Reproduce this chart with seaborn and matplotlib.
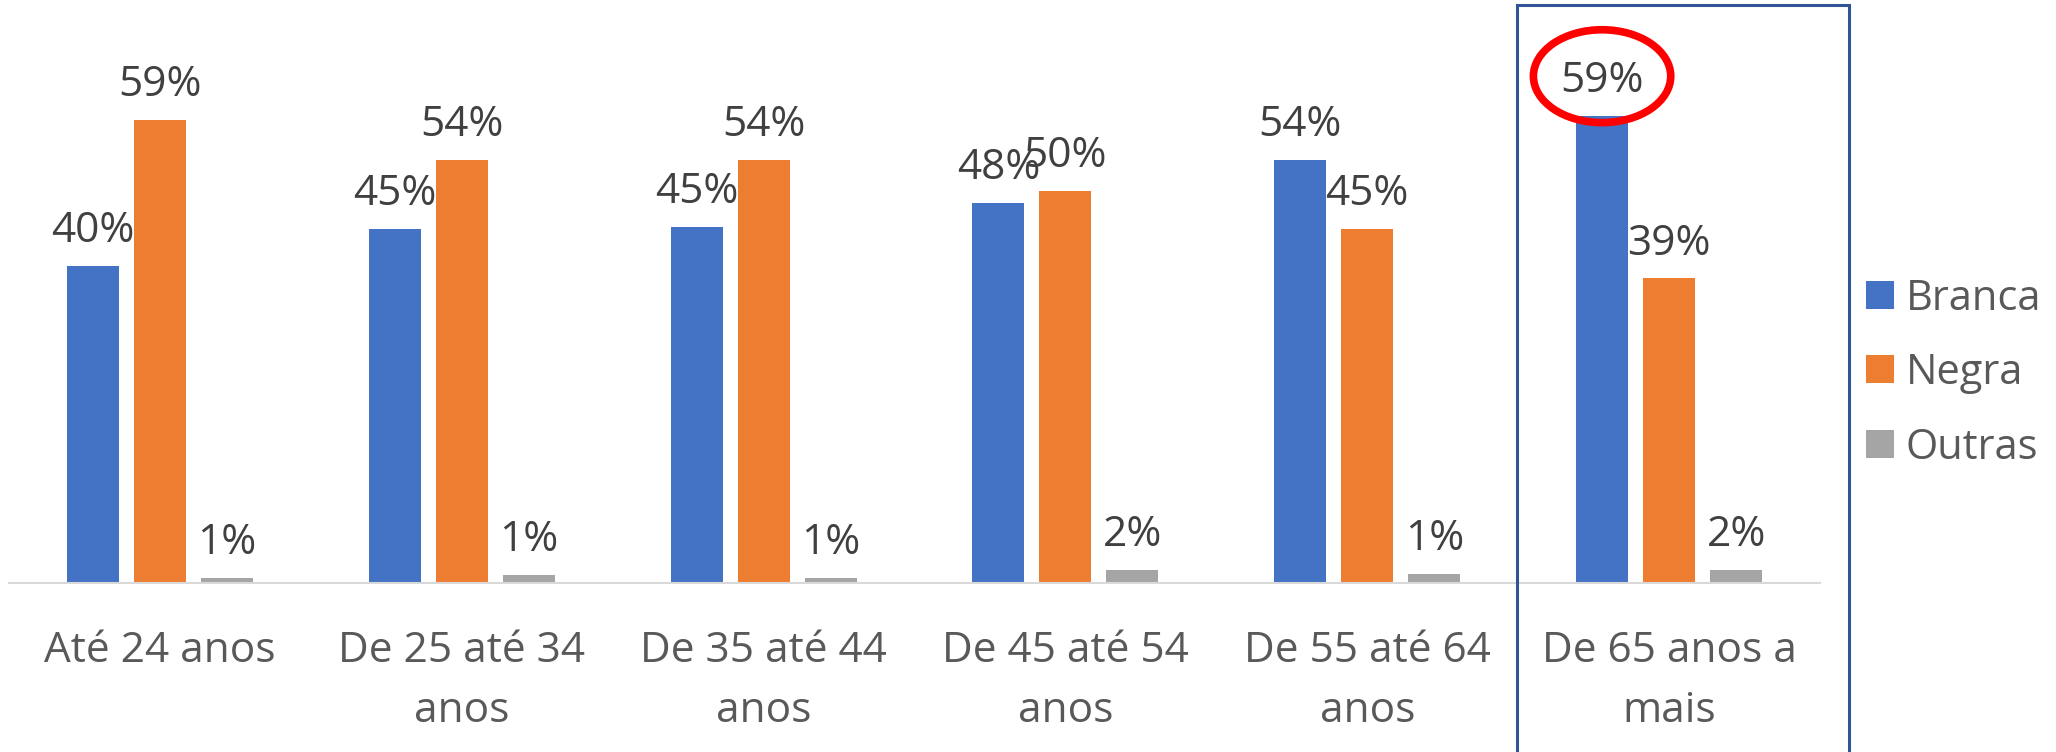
import numpy as np
import pandas as pd
import matplotlib.pyplot as plt
import seaborn as sns
from matplotlib.patches import Ellipse, Rectangle

# data (share of each age group)
faixas = [
    "Até 24 anos",
    "De 25 até 34\nanos",
    "De 35 até 44\nanos",
    "De 45 até 54\nanos",
    "De 55 até 64\nanos",
    "De 65 anos a\nmais",
]
racas = ["Branca", "Negra", "Outras"]
branca = [0.403, 0.450, 0.452, 0.483, 0.537, 0.594]
negra = [0.588, 0.537, 0.538, 0.498, 0.450, 0.387]
outras = [0.0067, 0.010, 0.0067, 0.0167, 0.0117, 0.0167]
cores = ["#4472C4", "#ED7D31", "#A5A5A5"]

df = pd.DataFrame({
    "faixa": faixas * 3,
    "raca": np.repeat(racas, len(faixas)),
    "pct": branca + negra + outras,
})

sns.set_theme(style="white")
plt.rcParams["font.family"] = ["Open Sans", "DejaVu Sans"]

W, H = 2056, 752
fig = plt.figure(figsize=(W / 100, H / 100), dpi=100)

# axes placed so that the baseline sits at y=583 px and 1% = 7.87 px
ymax = 0.72
base_px = 583
top_px = base_px - ymax * 100 * 7.87
ax = fig.add_axes([9 / W, 1 - base_px / H, (1820 - 9) / W, (base_px - top_px) / H])

sns.barplot(
    data=df, x="faixa", y="pct", hue="raca", order=faixas, hue_order=racas,
    palette=cores, saturation=1, width=0.666, gap=0.225, linewidth=0,
    ax=ax,
)

ax.set_ylim(0, ymax)
ax.set_xlim(-0.5, len(faixas) - 0.5)
ax.set_xlabel("")
ax.set_ylabel("")
ax.set_yticks([])
for s in ["top", "left", "right"]:
    ax.spines[s].set_visible(False)
ax.spines["bottom"].set_color("#D9D9D9")
ax.spines["bottom"].set_linewidth(1.5)
ax.tick_params(axis="x", length=0, pad=34, labelsize=30.5, labelcolor="#595959")
for lab in ax.get_xticklabels():
    lab.set_linespacing(1.55)

for cont in ax.containers:
    ax.bar_label(cont, fmt=lambda v: f"{v:.0%}", padding=10,
                 fontsize=30.5, color="#404040")

# legend on the right
handles, labels = ax.get_legend_handles_labels()
ax.get_legend().remove()
fig.legend(
    handles, labels, loc="center left", bbox_to_anchor=(1866 / W, 1 - 373 / H),
    frameon=False, fontsize=30, labelcolor="#595959",
    handlelength=0.66, handleheight=0.66, handletextpad=0.3,
    labelspacing=0.78, borderpad=0, borderaxespad=0,
)

# highlight box around the last group
fig.add_artist(Rectangle(
    (1517 / W, -0.02), (1849 - 1517) / W, 1.02 - 5 / H,
    transform=fig.transFigure, fill=False, edgecolor="#2F5597",
    linewidth=2.2, clip_on=False,
))

# red ring around the 59% label of Branca in the last group
bar = ax.containers[0][-1]
cx = bar.get_x() + bar.get_width() / 2
cy = bar.get_height() + 0.050
ax.add_patch(Ellipse(
    (cx, cy), 0.455, 0.118, fill=False, edgecolor="#FF0000",
    linewidth=5.5, clip_on=False, zorder=5,
))

fig.savefig("out.png", dpi=100)
